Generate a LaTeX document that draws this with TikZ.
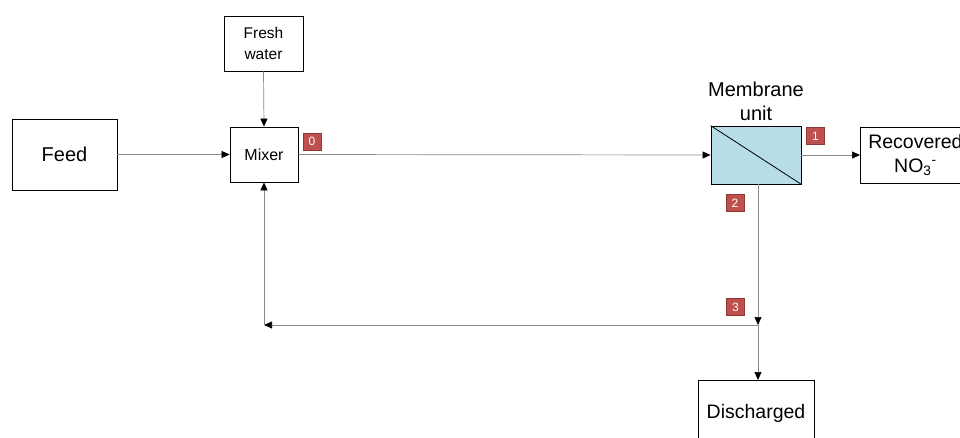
\documentclass[tikz,border=0pt]{standalone}
\usepackage{fontspec}
\setmainfont{Liberation Sans}
\usetikzlibrary{arrows.meta}
\definecolor{tagred}{HTML}{C0504D}
\definecolor{tagedge}{HTML}{8C3836}
\definecolor{membfill}{HTML}{B7DDE8}
\definecolor{flowgray}{HTML}{8A8A8A}
\tikzset{
  unitbox/.style={draw=black, line width=0.8pt, fill=white, align=center, inner sep=0pt},
  tag/.style={draw=tagedge, line width=0.5pt, fill=tagred, text=white, minimum width=18pt, minimum height=17pt, inner sep=0pt, font=\fontsize{12}{14}\selectfont},
  flow/.style={draw=flowgray, line width=0.7pt, arrows={-{Triangle[length=8pt,width=7pt,fill=black,color=black]}}},
}
\begin{document}
\begin{tikzpicture}[x=1pt,y=-1pt]
\useasboundingbox (0,0) rectangle (960,437);
\clip (0,0) rectangle (960,437);
\fill[white] (0,0) rectangle (960,437);

% process units
\node[unitbox, minimum width=105pt, minimum height=71pt, font=\fontsize{20}{23}\selectfont] (feed) at (64.5,154.5) {Feed};
\node[unitbox, minimum width=79pt, minimum height=55pt, font=\fontsize{15.5}{21}\selectfont] (fresh) at (263.5,43.5) {Fresh\\water};
\node[unitbox, minimum width=68pt, minimum height=55pt, font=\fontsize{16}{19}\selectfont] (mixer) at (264,154.5) {Mixer};
\node[draw=black, line width=0.8pt, fill=membfill, minimum width=90pt, minimum height=58pt, inner sep=0pt] (memb) at (756,155) {};
\draw[line width=0.8pt] (memb.north west) -- (memb.south east);
\node[align=center, font=\fontsize{20}{24}\selectfont, anchor=south] (membtxt) at (756,124) {Membrane\\unit};
\node[unitbox, minimum width=110pt, minimum height=56pt, font=\fontsize{19.5}{24}\selectfont, anchor=west] (recov) at (860,155) {Recovered\\NO\textsubscript{3}\textsuperscript{-}};
\node[unitbox, minimum width=116pt, minimum height=80pt, font=\fontsize{19.5}{22}\selectfont, anchor=north] (disch) at (756,380) {\raisebox{0pt}[0pt][0pt]{\raisebox{2pt}{Discharged}}};

% stream tags
\node[tag] (t0) at (312,141.5) {0};
\node[tag] (t1) at (815.5,136) {1};
\node[tag] (t2) at (735,203) {2};
\node[tag] (t3) at (735.5,307) {3};

% junction points
\coordinate (split) at (758,325);
\coordinate (ret) at (264,325);

% streams
\draw[flow] (feed.east) -- (mixer.west);
\draw[flow] (fresh.south) -- (mixer.north);
\draw[flow] (mixer.east) -- (memb.west);
\draw[flow] (memb.east) -- (recov.west);
\draw[flow] (memb.south -| split) -- (split);
\draw[flow] (split) -- (ret);
\draw[flow] (ret) -- (mixer.south);
\draw[flow] (split) -- (disch.north -| split);
\end{tikzpicture}
\end{document}
